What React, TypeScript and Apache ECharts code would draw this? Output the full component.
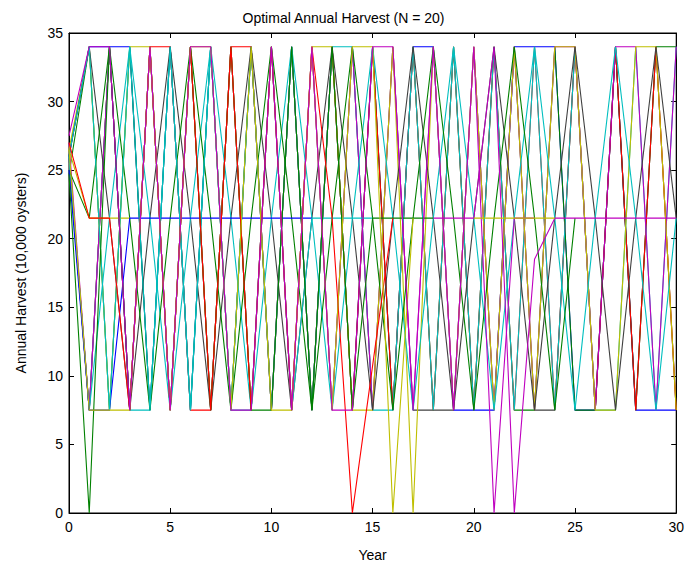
import React, { useEffect, useRef } from "react";
import * as echarts from "echarts";

const years = [0, 1, 2, 3, 4, 5, 6, 7, 8, 9, 10, 11, 12, 13, 14, 15, 16, 17, 18, 19, 20, 21, 22, 23, 24, 25, 26, 27, 28, 29, 30];

const N = null;
const magentaB = [N, N, N, N, N, N, N, N, N, N, N, N, N, N, N, N, N, N, 21.5, 21.5, 21.5, 34, 0, 18.5, 21.5, 21.5, 21.5, 21.5, 21.5, 21.5, 21.5];
const grayZ = [26, 7.5, 34, 7.5, 34, 7.5, 34, 7.5, 34, 7.5, 34, 7.5, 34, 7.5, 34, 7.5, 34, 7.5, 7.5, 7.5, 34, 7.5, 34, 7.5, 7.5, 34, 7.5, 34, 7.5, 34, 7.5];
const blueZ = [26, 34, 34, 34, 7.5, 34, 7.5, 34, 7.5, 34, 7.5, 34, 7.5, 34, 7.5, 34, 7.5, 34, 34, 7.5, 7.5, 7.5, 34, 34, 34, 7.5, 7.5, 34, 7.5, 7.5, 7.5];
const greenZ = [24.7, 34, 7.5, 34, 7.5, 34, 7.5, 34, 7.5, 34, 7.5, 34, 7.5, 34, 7.5, 34, 7.5, 34, 7.5, 34, 7.5, 34, 7.5, 7.5, 34, 7.5, 7.5, 34, 7.5, 34, 34];
const redZ = [26, 7.5, 34, 7.5, 34, 34, 7.5, 7.5, 34, 34, 7.5, 34, 7.5, 34, 7.5, 34, 7.5, 34, 7.5, 34, 7.5, 34, 7.5, 34, 7.5, 34, 7.5, 34, 7.5, 34, 7.5];
const cyanZ = [26, 7.5, 34, 7.5, 7.5, 34, 7.5, 34, 7.5, 34, 7.5, 34, 7.5, 34, 34, 7.5, 7.5, 34, 7.5, 34, 7.5, 34, 7.5, 34, 7.5, 34, 7.5, 7.5, 34, 7.5, 34];
const magentaZ = [27, 7.5, 34, 7.5, 34, 7.5, 34, 7.5, 34, 7.5, 34, 7.5, 34, 7.5, 34, 7.5, 34, 7.5, 34, 7.5, 34, 7.5, 34, 7.5, 34, 34, 7.5, 34, 34, 7.5, 34];
const yellowZ = [26.5, 34, 7.5, 34, 34, 7.5, 34, 7.5, 34, 7.5, 34, 7.5, 34, 34, 7.5, 7.5, 34, 0, 34, 7.5, 34, 7.5, 34, 7.5, 34, 34, 7.5, 7.5, 34, 34, 7.5];
const graySlow = [26, 34, 21.5, 7.5, 21.5, 34, 21.5, 7.5, 21.5, 34, 21.5, 7.5, 21.5, 34, 21.5, 7.5, 21.5, 34, 21.5, 7.5, 21.5, 34, 21.5, 7.5, 21.5, 34, 21.5, 7.5, 21.5, 34, 21.5];
const cyanSlow = [26, 7.5, 21.5, 34, 21.5, 7.5, 21.5, 34, 21.5, 7.5, 21.5, 34, 21.5, 7.5, 21.5, 34, 21.5, 7.5, 21.5, 34, 21.5, 7.5, 21.5, 34, 21.5, 7.5, 21.5, 34, 21.5, 7.5, 21.5];
const greenSlow = [25, 21.5, 34, 21.5, 7.5, 21.5, 34, 21.5, 7.5, 21.5, 34, 21.5, 7.5, 21.5, 34, 21.5, 7.5, 21.5, 34, 21.5, 7.5, 21.5, 34, 21.5, 7.5, 21.5, N, N, N, N, N];
const yellowFlat = [26.5, 21.5, 21.5, 21.5, N, N, N, N, N, N, N, N, N, N, N, N, N, N, N, N, N, N, N, N, N, N, N, N, N, N, N];
const blueFlat = [25, 7.5, 7.5, 21.5, 21.5, 21.5, 21.5, 21.5, 21.5, 21.5, 21.5, 21.5, 21.5, N, N, N, N, N, N, N, N, N, N, N, N, N, N, N, N, N, N];
const cyanFlat = [26, 34, 7.5, 34, 7.5, 34, 7.5, 34, 7.5, 7.5, 34, 7.5, 21.5, 21.5, 21.5, 21.5, N, N, N, N, N, N, N, N, N, N, N, N, N, N, N];
const greenFlat = [24.7, 0, 34, 7.5, 34, 7.5, 34, 7.5, 34, 7.5, 7.5, 34, 7.5, 34, 7.5, 21.5, 21.5, 21.5, 21.5, N, N, N, N, N, N, N, N, N, N, N, N];
const redFlat = [27, 21.5, 21.5, 7.5, 34, 7.5, 34, 7.5, 34, 7.5, 34, 7.5, 34, 21.5, 0, 10.75, 21.5, N, N, N, N, N, N, N, N, N, N, N, N, N, N];
const yellowDive = [26.5, 7.5, 7.5, 7.5, 34, 7.5, 34, 34, 7.5, 34, 7.5, 7.5, 34, 7.5, 34, 34, 0, 21.5, N, N, N, N, N, N, N, N, N, N, N, N, N];
const magentaDive = [27.5, 34, 34, 7.5, 34, 7.5, 34, 34, 7.5, 7.5, 34, 7.5, 34, 7.5, 7.5, 34, 34, 7.5, 34, 7.5, 34, 0, 21.5, 21.5, N, N, N, N, N, N, N];
const yellowLate = [N, N, N, N, N, N, N, N, N, N, N, N, N, N, N, N, N, N, N, N, 21.5, 21.5, 21.5, 21.5, 21.5, N, N, N, N, N, N];

const BLUE = "#0000ff";
const GREEN = "#008000";
const RED = "#ff0000";
const CYAN = "#00bfbf";
const MAGENTA = "#bf00bf";
const YELLOW = "#bfbf00";
const GRAY = "#404040";

const seriesDefs: [(number | null)[], string][] = [
  [grayZ, GRAY],
  [blueZ, BLUE],
  [greenZ, GREEN],
  [redZ, RED],
  [cyanZ, CYAN],
  [magentaZ, MAGENTA],
  [yellowZ, YELLOW],
  [graySlow, GRAY],
  [cyanSlow, CYAN],
  [greenSlow, GREEN],
  [yellowFlat, YELLOW],
  [blueFlat, BLUE],
  [cyanFlat, CYAN],
  [greenFlat, GREEN],
  [redFlat, RED],
  [yellowDive, YELLOW],
  [magentaDive, MAGENTA],
  [magentaB, MAGENTA],
  [yellowLate, YELLOW],
];

const FONT = "'Liberation Sans', Arial, sans-serif";

export default function App() {
  const ref = useRef<HTMLDivElement>(null);
  useEffect(() => {
    if (!ref.current) return;
    const chart = echarts.init(ref.current, undefined, { renderer: "svg" });
    const axisCommon = {
      type: "value" as const,
      axisLine: { show: true, onZero: false, lineStyle: { color: "#000", width: 1 } },
      axisTick: { show: true, inside: true, length: 5, lineStyle: { color: "#000" } },
      splitLine: { show: false },
    };
    chart.setOption({
      animation: false,
      backgroundColor: "#ffffff",
      title: {
        text: "Optimal Annual Harvest (N = 20)",
        left: "center",
        top: 6,
        textStyle: { fontFamily: FONT, fontSize: 14, fontWeight: "normal", color: "#000" },
      },
      grid: { left: 69, right: 9, top: 33, bottom: 50, show: true, borderColor: "#000", borderWidth: 1 },
      xAxis: [
        {
          ...axisCommon,
          min: 0,
          max: 30,
          interval: 5,
          position: "bottom",
          name: "Year",
          nameLocation: "middle",
          nameGap: 35,
          nameTextStyle: { fontFamily: FONT, fontSize: 14, color: "#000" },
          axisLabel: { color: "#000", fontFamily: FONT, fontSize: 14, margin: 7, showMinLabel: true, showMaxLabel: true },
        },
        {
          ...axisCommon,
          min: 0,
          max: 30,
          interval: 5,
          position: "top",
          axisLabel: { show: false },
        },
      ],
      yAxis: [
        {
          ...axisCommon,
          min: 0,
          max: 35,
          interval: 5,
          position: "left",
          name: "Annual Harvest (10,000 oysters)",
          nameLocation: "middle",
          nameGap: 41,
          nameTextStyle: { fontFamily: FONT, fontSize: 14, color: "#000" },
          axisLabel: { color: "#000", fontFamily: FONT, fontSize: 14, margin: 6, showMinLabel: true, showMaxLabel: true },
        },
        {
          ...axisCommon,
          min: 0,
          max: 35,
          interval: 5,
          position: "right",
          axisLabel: { show: false },
        },
      ],
      series: seriesDefs.map(([vals, color]) => ({
        type: "line",
        data: years.map((y, i) => [y, vals[i]]),
        symbol: "none",
        connectNulls: false,
        lineStyle: { color, width: 1.1 },
        itemStyle: { color },
        emphasis: { disabled: true },
        silent: true,
      })),
    });
    return () => chart.dispose();
  }, []);
  return <div ref={ref} style={{ position: "fixed", left: 0, top: 0, width: 687, height: 567 }} />;
}
